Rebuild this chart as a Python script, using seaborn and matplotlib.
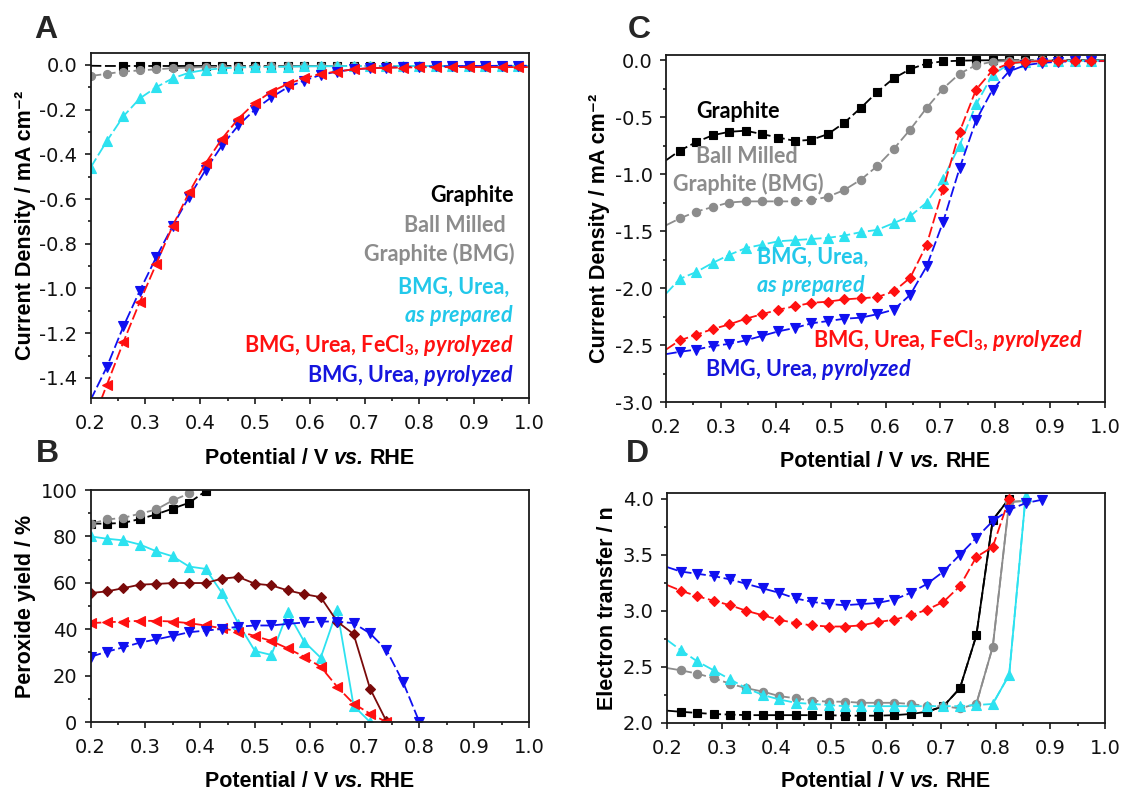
import matplotlib
matplotlib.use("Agg")
import matplotlib.pyplot as plt
import seaborn as sns
from matplotlib.ticker import MultipleLocator
from matplotlib.offsetbox import TextArea, HPacker, AnchoredOffsetbox

# ---------------- data ----------------
# Panel A (LSV, 0.2 -> 1.0 V)
xA = [0.20, 0.23, 0.26, 0.29, 0.32, 0.35, 0.38, 0.41, 0.44, 0.47, 0.50, 0.53, 0.56, 0.59,
      0.62, 0.65, 0.68, 0.71, 0.74, 0.77, 0.80, 0.83, 0.86, 0.89, 0.92, 0.95, 0.98, 1.00]
A_graphite = [-0.004, -0.005, -0.005, -0.005, -0.005, -0.005, -0.005, -0.005, -0.005, -0.005,
              -0.005, -0.005, -0.005, -0.005, -0.005, -0.005, -0.005, -0.005, -0.005, -0.005,
              -0.005, -0.005, -0.005, -0.005, -0.005, -0.005, -0.005, -0.005]
A_bmg = [-0.05, -0.04, -0.03, -0.025, -0.02, -0.015, -0.012, -0.01, -0.01, -0.008, -0.008,
         -0.007, -0.007, -0.006, -0.006, -0.006, -0.005, -0.005, -0.005, -0.005, -0.005,
         -0.005, -0.005, -0.005, -0.005, -0.005, -0.005, -0.005]
A_urea = [-0.46, -0.34, -0.23, -0.15, -0.10, -0.06, -0.035, -0.022, -0.016, -0.012, -0.01,
          -0.009, -0.008, -0.007, -0.006, -0.006, -0.005, -0.005, -0.005, -0.005, -0.005,
          -0.005, -0.005, -0.005, -0.005, -0.005, -0.005, -0.005]
A_fe = [-1.62, -1.43, -1.24, -1.06, -0.89, -0.72, -0.57, -0.44, -0.33, -0.24, -0.17, -0.12,
        -0.085, -0.06, -0.04, -0.03, -0.02, -0.015, -0.013, -0.012, -0.011, -0.01, -0.01,
        -0.01, -0.01, -0.01, -0.01, -0.01]
A_pyro = [-1.50, -1.35, -1.17, -1.01, -0.86, -0.72, -0.59, -0.47, -0.36, -0.27, -0.20, -0.145,
          -0.10, -0.07, -0.045, -0.03, -0.02, -0.015, -0.012, -0.01, -0.008, -0.007, -0.006,
          -0.005, -0.005, -0.004, -0.004, -0.004]

# Panel C (LSV, 0.2 -> 1.0 V)
xC = [0.200, 0.225, 0.255, 0.285, 0.315, 0.345, 0.375, 0.405, 0.435, 0.465, 0.495, 0.525,
      0.555, 0.585, 0.615, 0.645, 0.675, 0.705, 0.735, 0.765, 0.795, 0.825, 0.855, 0.885,
      0.915, 0.945, 0.975, 1.000]
C_graphite = [-0.88, -0.795, -0.72, -0.66, -0.63, -0.62, -0.65, -0.68, -0.71, -0.70, -0.65,
              -0.55, -0.42, -0.28, -0.16, -0.08, -0.03, -0.012, -0.006, -0.003, -0.002,
              -0.002, -0.002, -0.002, -0.002, -0.002, -0.002, -0.002]
C_bmg = [-1.45, -1.39, -1.33, -1.29, -1.25, -1.24, -1.24, -1.24, -1.24, -1.23, -1.20, -1.14,
         -1.05, -0.93, -0.78, -0.61, -0.42, -0.25, -0.12, -0.045, -0.015, -0.008, -0.005,
         -0.004, -0.003, -0.003, -0.003, -0.003]
C_urea = [-2.05, -1.92, -1.86, -1.78, -1.71, -1.65, -1.62, -1.59, -1.58, -1.57, -1.56, -1.54,
          -1.51, -1.49, -1.43, -1.37, -1.25, -1.04, -0.75, -0.39, -0.13, -0.035, -0.015,
          -0.01, -0.008, -0.007, -0.006, -0.006]
C_fe = [-2.54, -2.46, -2.41, -2.36, -2.32, -2.27, -2.23, -2.19, -2.16, -2.13, -2.12, -2.10,
        -2.09, -2.08, -2.03, -1.91, -1.62, -1.13, -0.63, -0.26, -0.09, -0.03, -0.015, -0.01,
        -0.008, -0.008, -0.008, -0.008]
C_pyro = [-2.58, -2.56, -2.54, -2.51, -2.49, -2.46, -2.42, -2.38, -2.35, -2.31, -2.29, -2.27,
          -2.26, -2.23, -2.19, -2.06, -1.81, -1.42, -0.95, -0.53, -0.26, -0.10, -0.045,
          -0.025, -0.015, -0.012, -0.01, -0.01]

# Panel B (peroxide yield, %)
xB_graphite = [0.20, 0.23, 0.26, 0.29, 0.32, 0.35, 0.38, 0.41]
B_graphite = [85.5, 85.5, 85.8, 87.5, 89.5, 92.0, 94.5, 99.5]
xB_bmg = [0.20, 0.23, 0.26, 0.29, 0.32, 0.35, 0.38]
B_bmg = [85.4, 87.3, 88.0, 89.8, 91.6, 95.5, 98.5]
xB_urea = [0.20, 0.23, 0.26, 0.29, 0.32, 0.35, 0.38, 0.41, 0.44, 0.47, 0.50, 0.53, 0.56,
           0.59, 0.62, 0.65, 0.68, 0.71]
B_urea = [80.0, 79.0, 78.3, 76.5, 73.6, 71.4, 67.0, 66.0, 55.6, 42.3, 30.6, 28.9, 47.2,
          34.6, 27.7, 48.3, 7.0, 0.0]
xB_dia = [0.20, 0.23, 0.26, 0.29, 0.32, 0.35, 0.38, 0.41, 0.44, 0.47, 0.50, 0.53, 0.56,
          0.59, 0.62, 0.65, 0.68, 0.71, 0.74]
B_dia = [55.6, 56.3, 57.7, 59.2, 59.5, 59.9, 59.9, 59.9, 61.8, 62.5, 59.6, 58.9, 56.7, 55.1,
         53.8, 43.3, 37.9, 14.4, 0.3]
xB_fe = [0.20, 0.23, 0.26, 0.29, 0.32, 0.35, 0.38, 0.41, 0.44, 0.47, 0.50, 0.53, 0.56,
         0.59, 0.62, 0.65, 0.68, 0.71, 0.74]
B_fe = [42.6, 43.0, 43.3, 43.6, 43.6, 43.3, 42.6, 41.6, 40.4, 39.0, 37.1, 34.9, 31.7, 28.1,
        23.8, 15.2, 7.9, 3.6, 0.0]
xB_pyro = [0.20, 0.23, 0.26, 0.29, 0.32, 0.35, 0.38, 0.41, 0.44, 0.47, 0.50, 0.53, 0.56,
           0.59, 0.62, 0.65, 0.68, 0.71, 0.74, 0.77, 0.80]
B_pyro = [28.1, 30.3, 32.2, 34.2, 35.6, 37.1, 38.7, 39.4, 40.1, 41.1, 41.6, 41.6, 42.3, 42.9,
          43.3, 43.3, 42.6, 38.2, 31.0, 17.3, 0.0]

# Panel D (electron transfer number)
xD = [0.200, 0.225, 0.255, 0.285, 0.315, 0.345, 0.375, 0.405, 0.435, 0.465, 0.495, 0.525,
      0.555, 0.585, 0.615, 0.645, 0.675, 0.705, 0.735, 0.765, 0.795, 0.825, 0.855, 0.885]
D_graphite = [2.11, 2.10, 2.09, 2.08, 2.075, 2.07, 2.07, 2.07, 2.07, 2.07, 2.07, 2.065,
              2.065, 2.065, 2.07, 2.08, 2.10, 2.15, 2.31, 2.78, 3.81, 4.00]
D_bmg = [2.49, 2.47, 2.44, 2.40, 2.35, 2.31, 2.28, 2.24, 2.22, 2.20, 2.19, 2.19, 2.18, 2.18,
         2.18, 2.17, 2.15, 2.15, 2.13, 2.17, 2.68, 3.97, 3.98]
D_urea = [2.74, 2.65, 2.55, 2.47, 2.39, 2.31, 2.25, 2.21, 2.18, 2.17, 2.16, 2.15, 2.15, 2.15,
          2.15, 2.15, 2.15, 2.15, 2.15, 2.16, 2.17, 2.43, 4.02]
D_fe = [3.23, 3.18, 3.13, 3.09, 3.05, 3.00, 2.96, 2.92, 2.89, 2.87, 2.86, 2.86, 2.87, 2.90,
        2.92, 2.96, 3.01, 3.08, 3.22, 3.48, 3.57, 4.00]
D_pyro = [3.39, 3.35, 3.33, 3.31, 3.28, 3.24, 3.20, 3.16, 3.11, 3.08, 3.06, 3.05, 3.06, 3.07,
          3.10, 3.16, 3.24, 3.35, 3.50, 3.65, 3.80, 3.90, 3.96, 3.99]

# ---------------- style ----------------
sns.set_style("ticks")
plt.rcParams["font.family"] = ["Liberation Sans", "DejaVu Sans"]
plt.rcParams["axes.unicode_minus"] = False
plt.rcParams["mathtext.fontset"] = "custom"
plt.rcParams["mathtext.rm"] = "Lato:bold"
plt.rcParams["mathtext.bf"] = "Lato:bold"
plt.rcParams["mathtext.it"] = "Lato:italic:bold"
plt.rcParams["mathtext.default"] = "rm"

BLACK = "#000000"
GREY = "#8C8C8C"
CYAN = "#2DE2F0"
RED = "#FF1010"
BLUE = "#1010F0"
MAROON = "#7A0A0A"
CYAN_T = "#22C8EA"
BLUE_T = "#1515DD"
AXC = "#1a1a1a"

W, H = 1123, 793
fig = plt.figure(figsize=(W / 100, H / 100), dpi=100)


def box(l, t, r, b):
    return [l / W, 1 - b / H, (r - l) / W, (b - t) / H]


axA = fig.add_axes(box(90.5, 53, 529, 398))
axC = fig.add_axes(box(666, 55, 1105, 402))
axB = fig.add_axes(box(90.5, 490, 529, 722))
axD = fig.add_axes(box(667, 493, 1105, 723))

DASH = (0, (6, 2))


def draw(ax, x, y, color, marker, ms, every=None, ls=DASH, z=2):
    idx = list(range(len(x))) if every is None else every
    sns.lineplot(x=x, y=y, ax=ax, color=color, marker=marker, markersize=ms,
                 markeredgecolor=color, markerfacecolor=color, markeredgewidth=0.8,
                 linewidth=1.3, linestyle=ls, markevery=idx, sort=False,
                 estimator=None, legend=False, zorder=z)


def solid(ax, x, y, color, z=1.9):
    sns.lineplot(x=x, y=y, ax=ax, color=color, linewidth=1.3, sort=False,
                 estimator=None, legend=False, zorder=z)


nA = len(xA)
draw(axA, xA, A_graphite, BLACK, "s", 5.3, every=list(range(2, nA - 1)))
draw(axA, xA, A_bmg, GREY, "o", 5.8, every=list(range(0, nA - 1)))
draw(axA, xA, A_urea, CYAN, "^", 7, every=list(range(0, nA - 1)))
draw(axA, xA, A_pyro, BLUE, "v", 7, every=list(range(1, nA - 1)))
draw(axA, xA, A_fe, RED, "<", 7, every=list(range(1, nA - 1)))

nC = len(xC)
draw(axC, xC, C_graphite, BLACK, "s", 5.5, every=list(range(1, nC - 1)))
draw(axC, xC, C_bmg, GREY, "o", 6, every=list(range(1, nC - 1)))
draw(axC, xC, C_urea, CYAN, "^", 7, every=list(range(1, nC - 1)))
draw(axC, xC, C_pyro, BLUE, "v", 7, every=list(range(1, nC - 1)))
draw(axC, xC, C_fe, RED, "D", 5.5, every=list(range(1, nC - 1)))

draw(axB, xB_graphite, B_graphite, BLACK, "s", 5.5)
draw(axB, xB_bmg, B_bmg, GREY, "o", 6)
draw(axB, xB_urea, B_urea, CYAN, "^", 7, ls="-")
draw(axB, xB_dia, B_dia, MAROON, "D", 5.5, ls="-")
draw(axB, xB_fe, B_fe, RED, "<", 7)
draw(axB, xB_pyro, B_pyro, BLUE, "v", 7)

nDg, nDb, nDu, nDf, nDp = len(D_graphite), len(D_bmg), len(D_urea), len(D_fe), len(D_pyro)
solid(axD, xD[16:nDg], D_graphite[16:], BLACK)
solid(axD, xD[19:nDb], D_bmg[19:], GREY)
solid(axD, xD[20:nDu], D_urea[20:], CYAN)
draw(axD, xD[:nDg], D_graphite, BLACK, "s", 5.5, every=list(range(1, nDg)))
draw(axD, xD[:nDb], D_bmg, GREY, "o", 6, every=list(range(1, nDb)))
draw(axD, xD[:nDu], D_urea, CYAN, "^", 7, every=list(range(1, nDu)))
draw(axD, xD[:nDf], D_fe, RED, "D", 5.5, every=list(range(1, nDf)))
draw(axD, xD[:nDp], D_pyro, BLUE, "v", 7, every=list(range(1, nDp)))

# ---------------- axes formatting ----------------
LABFONT = dict(fontsize=15.5, fontweight="bold", family=["Liberation Sans", "DejaVu Sans"],
               color="black")


def xlabel(ax, y):
    it = dict(LABFONT, style="italic")
    parts = [TextArea("Potential / V", textprops=LABFONT),
             TextArea("vs.", textprops=it),
             TextArea("RHE", textprops=LABFONT)]
    pack = HPacker(children=parts, align="baseline", pad=0, sep=4.3)
    anch = AnchoredOffsetbox(loc="upper center", child=pack, pad=0, borderpad=0,
                             frameon=False, bbox_to_anchor=(0.5, y),
                             bbox_transform=ax.transAxes)
    fig.add_artist(anch)


for ax, ylim, ymaj, ymin, ylab, xl_y, yl_x in [
    (axA, (-1.49, 0.053), 0.2, 0.1, "Current Density / mA cm\u207b\u00b2", -0.145, -0.125),
    (axC, (-3.0, 0.044), 0.5, 0.25, "Current Density / mA cm\u207b\u00b2", -0.141, -0.128),
    (axB, (0, 100), 20, 10, "Peroxide yield / %", -0.211, -0.125),
    (axD, (2.0, 4.05), 0.5, 0.25, "Electron transfer / n", -0.209, -0.113),
]:
    ax.set_xlim(0.2, 1.0)
    ax.set_ylim(*ylim)
    ax.xaxis.set_major_locator(MultipleLocator(0.1))
    ax.xaxis.set_minor_locator(MultipleLocator(0.05))
    ax.yaxis.set_major_locator(MultipleLocator(ymaj))
    ax.yaxis.set_minor_locator(MultipleLocator(ymin))
    ax.tick_params(which="major", direction="out", length=4.5, width=1.2,
                   top=False, right=False, colors=AXC, labelcolor="#111111")
    ax.tick_params(which="minor", direction="out", length=2.5, width=1.2, top=False,
                   right=False, colors=AXC)
    ax.tick_params(axis="x", which="major", pad=7)
    ax.tick_params(axis="y", which="major", pad=5)
    for lab in ax.get_xticklabels() + ax.get_yticklabels():
        lab.set_fontfamily("DejaVu Sans")
        lab.set_fontsize(14)
    for s in ax.spines.values():
        s.set_linewidth(1.3)
        s.set_color(AXC)
    ax.set_xlabel("")
    ax.set_ylabel(ylab, **LABFONT)
    ax.yaxis.set_label_coords(yl_x, 0.5)
    xlabel(ax, xl_y)

# ---------------- panel letters ----------------
for lab, px, py in [("A", 34, 38), ("B", 36, 462), ("C", 628, 38), ("D", 626, 462)]:
    fig.text(px / W, 1 - py / H, lab, fontsize=23, fontweight="bold", ha="left",
             va="baseline", family="Liberation Sans")


# ---------------- annotations ----------------
def note(px, py, s, color, ha="left"):
    fig.text(px / W, 1 - py / H, s, fontsize=15.5, color=color, ha=ha, va="baseline",
             family="Lato", fontweight="bold")


note(514, 202, "Graphite", BLACK, "right")
note(506, 232, "Ball Milled", GREY, "right")
note(514, 261, "Graphite (BMG)", GREY, "right")
note(509, 294, "BMG, Urea,", CYAN_T, "right")
note(514, 322, r"$\mathit{as\ prepared}$", CYAN_T, "right")
note(514, 352, r"BMG, Urea, FeCl$_3$, $\mathit{pyrolyzed}$", RED, "right")
note(514, 382, r"BMG, Urea, $\mathit{pyrolyzed}$", BLUE_T, "right")

note(696, 118, "Graphite", BLACK)
note(696, 163, "Ball Milled", GREY)
note(673, 191, "Graphite (BMG)", GREY)
note(757, 264, "BMG, Urea,", CYAN_T)
note(756, 292, r"$\mathit{as\ prepared}$", CYAN_T)
note(813, 347, r"BMG, Urea, FeCl$_3$, $\mathit{pyrolyzed}$", RED)
note(705, 376, r"BMG, Urea, $\mathit{pyrolyzed}$", BLUE_T)

fig.savefig("out.png", dpi=100)
